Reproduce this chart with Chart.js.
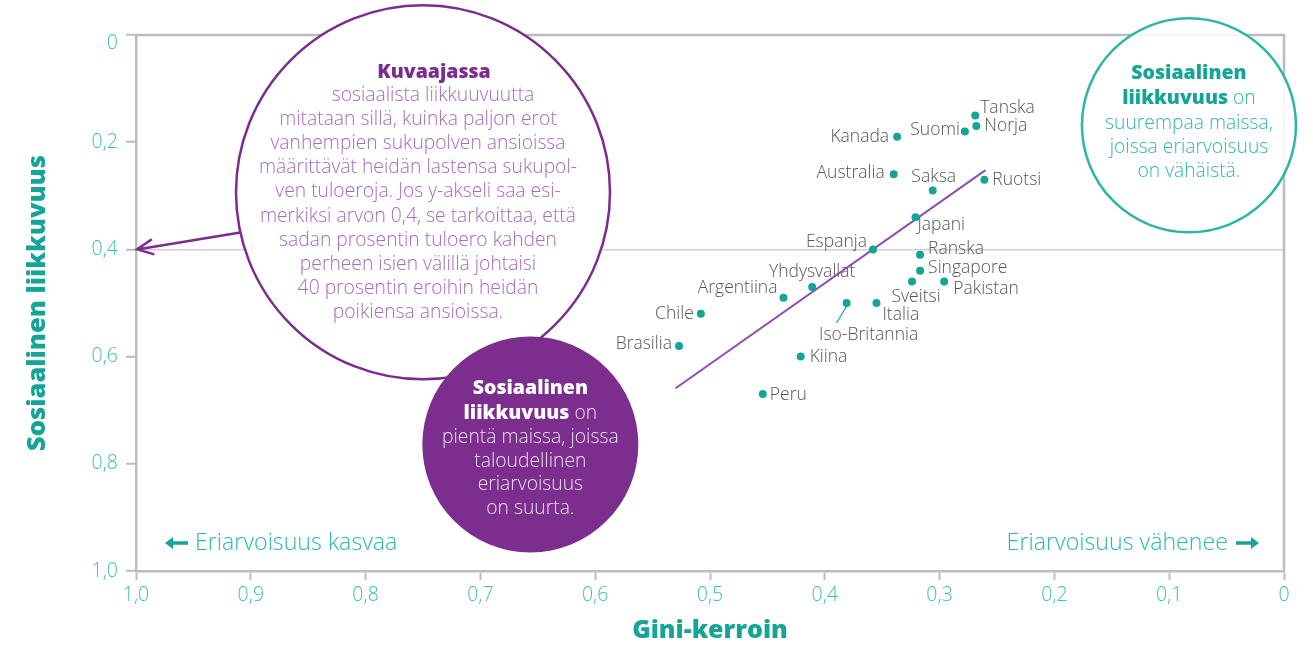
<!DOCTYPE html>
<html lang="fi">
<head>
<meta charset="utf-8">
<title>Sosiaalinen liikkuvuus ja Gini-kerroin</title>
<script src="https://cdn.jsdelivr.net/npm/chart.js@4"></script>
<style>
  html, body { margin: 0; padding: 0; background: #fff; }
  #wrap { width: 1313px; height: 646px; }
</style>
</head>
<body>
<div id="wrap"><canvas id="chart" width="1313" height="646"></canvas></div>
<script>
// values
const countries = [
  "Tanska", "Norja", "Suomi", "Kanada", "Australia", "Saksa", "Ruotsi",
  "Japani", "Espanja", "Ranska", "Singapore", "Pakistan", "Sveitsi",
  "Italia", "Iso-Britannia", "Yhdysvallat", "Argentiina", "Chile",
  "Brasilia", "Kiina", "Peru"
];
const giniValues = [
  0.269, 0.268, 0.278, 0.337, 0.340, 0.306, 0.261,
  0.321, 0.358, 0.317, 0.317, 0.296, 0.324,
  0.355, 0.381, 0.411, 0.436, 0.508,
  0.527, 0.421, 0.454
];
const mobilityValues = [
  0.15, 0.17, 0.18, 0.19, 0.26, 0.29, 0.27,
  0.34, 0.40, 0.41, 0.44, 0.46, 0.46,
  0.50, 0.50, 0.47, 0.49, 0.52,
  0.58, 0.60, 0.67
];
const trendGini = [0.530, 0.260];
const trendMobility = [0.659, 0.252];

const xTicks = [1.0, 0.9, 0.8, 0.7, 0.6, 0.5, 0.4, 0.3, 0.2, 0.1, 0];
const yTicks = [0, 0.2, 0.4, 0.6, 0.8, 1.0];
const referenceLine = 0.4;

// label placement next to each dot (pixels)
const labelPlace = {
  "Tanska": ["left", 5, -7], "Norja": ["left", 8, 0], "Suomi": ["right", -5, -1],
  "Kanada": ["right", -8, 0], "Australia": ["right", -9, -1], "Saksa": ["center", 1, -13],
  "Ruotsi": ["left", 8, 0], "Japani": ["left", 2, 8], "Espanja": ["right", -6, -7],
  "Ranska": ["left", 8, -6], "Singapore": ["left", 8, -3], "Pakistan": ["left", 9, 7],
  "Sveitsi": ["center", 4, 15], "Italia": ["left", 6, 12], "Iso-Britannia": ["center", 22, 32],
  "Yhdysvallat": ["center", 0, -15], "Argentiina": ["right", -6, -10], "Chile": ["right", -7, 0],
  "Brasilia": ["right", -7, -2], "Kiina": ["left", 9, 0], "Peru": ["left", 7, 1]
};

const TEAL = "#15a596";
const TEAL_LIGHT = "#3fc2ad";
const PURPLE = "#7b2d8e";
const PURPLE_LIGHT = "#a66dbd";
const GRAY_AXIS = "#bdbdbd";
const FONT = "'Open Sans', Lato, sans-serif";

const fmt = v => (v === 0 ? "0" : v.toFixed(1).replace(".", ","));

function richLine(ctx, parts, cx, y) {
  let total = 0;
  parts.forEach(p => { ctx.font = p.font; p.w = ctx.measureText(p.text).width; total += p.w; });
  let x = cx - total / 2;
  ctx.textAlign = "left";
  ctx.textBaseline = "middle";
  parts.forEach(p => { ctx.font = p.font; ctx.fillStyle = p.color; ctx.fillText(p.text, x, y); x += p.w; });
}

const notesPlugin = {
  id: "notes",
  beforeDraw(chart) {
    // the "0" of the y axis sits a little below its tick in the original
    const items = chart.scales.y.getLabelItems();
    const zero = items.find(it => it.label === "0");
    if (zero && !zero.moved) { zero.options.translation[1] += 8; zero.moved = true; }
  },
  beforeDatasetsDraw(chart) {
    const { ctx, chartArea: a, scales: { x, y } } = chart;
    ctx.save();
    // top and right frame
    ctx.strokeStyle = GRAY_AXIS;
    ctx.lineWidth = 2.5;
    ctx.beginPath();
    ctx.moveTo(a.left, a.top);
    ctx.lineTo(a.right, a.top);
    ctx.lineTo(a.right, a.bottom);
    ctx.stroke();

    const light = "300 19.3px " + FONT;
    const heavy = "800 19.5px " + FONT;

    // big explanation circle
    const bx = x.getPixelForValue(0.750), by = y.getPixelForValue(0.2935), br = 187;
    ctx.beginPath();
    ctx.arc(bx, by, br, 0, Math.PI * 2);
    ctx.fillStyle = "#fff";
    ctx.fill();
    ctx.strokeStyle = PURPLE;
    ctx.lineWidth = 2.5;
    ctx.stroke();

    // arrow from circle to y = 0.4
    const tx = x.getPixelForValue(1.0), ty = y.getPixelForValue(referenceLine);
    const ang = Math.atan2(ty - by, tx - bx) - 0.02;
    const sx = bx + br * Math.cos(ang), sy = by + br * Math.sin(ang);
    const dir = Math.atan2(sy - ty, sx - tx);
    ctx.beginPath();
    ctx.moveTo(sx, sy);
    ctx.lineTo(tx + 1, ty);
    ctx.moveTo(tx + 1 + 18 * Math.cos(dir - 0.44), ty + 18 * Math.sin(dir - 0.44));
    ctx.lineTo(tx + 1, ty);
    ctx.lineTo(tx + 1 + 18 * Math.cos(dir + 0.44), ty + 18 * Math.sin(dir + 0.44));
    ctx.lineWidth = 2.5;
    ctx.lineJoin = "miter";
    ctx.stroke();

    const bigLines = [
      "mitataan sillä, kuinka paljon erot",
      "vanhempien sukupolven ansioissa",
      "määrittävät heidän lastensa sukupol-",
      "ven tuloeroja. Jos y-akseli saa esi-",
      "merkiksi arvon 0,4, se tarkoittaa, että",
      "sadan prosentin tuloero kahden",
      "perheen isien välillä johtaisi",
      "40 prosentin eroihin heidän",
      "poikiensa ansioissa."
    ];
    richLine(ctx, [{ text: "Kuvaajassa", font: heavy, color: PURPLE }], bx + 11, by - 120);
    richLine(ctx, [{ text: "sosiaalista liikkuuvuutta", font: light, color: PURPLE_LIGHT }], bx + 10, by - 97);
    bigLines.forEach((t, i) => {
      richLine(ctx, [{ text: t, font: light, color: PURPLE_LIGHT }], bx - 5, by - 73 + i * 24.2);
    });

    // filled purple circle
    const px = x.getPixelForValue(0.6565), py = y.getPixelForValue(0.764), pr = 108;
    ctx.beginPath();
    ctx.arc(px, py, pr, 0, Math.PI * 2);
    ctx.fillStyle = "#7c2e8e";
    ctx.fill();
    const pale = "#eadcef";
    richLine(ctx, [{ text: "Sosiaalinen", font: heavy, color: "#fff" }], px, py - 56);
    richLine(ctx, [{ text: "liikkuvuus", font: heavy, color: "#fff" }, { text: " on", font: light, color: pale }], px, py - 31);
    ["pientä maissa, joissa", "taloudellinen", "eriarvoisuus", "on suurta."].forEach((t, i) => {
      richLine(ctx, [{ text: t, font: light, color: pale }], px, py - 7 + i * 23.7);
    });

    // teal circle
    const cx = x.getPixelForValue(0.0828), cy = y.getPixelForValue(0.1685), cr = 107;
    ctx.beginPath();
    ctx.arc(cx, cy, cr, 0, Math.PI * 2);
    ctx.fillStyle = "rgba(255,255,255,0.88)";
    ctx.fill();
    ctx.strokeStyle = "#2db7a2";
    ctx.lineWidth = 2.5;
    ctx.stroke();
    const tealText = "#33b9a4";
    richLine(ctx, [{ text: "Sosiaalinen", font: heavy, color: TEAL }], cx, cy - 52);
    richLine(ctx, [{ text: "liikkuvuus", font: heavy, color: TEAL }, { text: " on", font: light, color: tealText }], cx, cy - 27);
    ["suurempaa maissa,", "joissa eriarvoisuus", "on vähäistä."].forEach((t, i) => {
      richLine(ctx, [{ text: t, font: light, color: tealText }], cx, cy - 2 + i * 24);
    });

    // direction hints
    const hy = a.bottom - 28;
    ctx.font = "300 23.2px " + FONT;
    ctx.fillStyle = "#2dbba6";
    ctx.textBaseline = "middle";
    ctx.textAlign = "left";
    ctx.fillText("Eriarvoisuus kasvaa", a.left + 59, hy);
    ctx.textAlign = "right";
    ctx.fillText("Eriarvoisuus vähenee", a.right - 56, hy);
    const arrow = (x0, x1) => {
      const s = Math.sign(x1 - x0);
      ctx.strokeStyle = TEAL;
      ctx.fillStyle = TEAL;
      ctx.lineWidth = 3.5;
      ctx.beginPath();
      ctx.moveTo(x0, hy);
      ctx.lineTo(x1 - s * 6, hy);
      ctx.stroke();
      ctx.beginPath();
      ctx.moveTo(x1, hy);
      ctx.lineTo(x1 - s * 8, hy - 6);
      ctx.lineTo(x1 - s * 8, hy + 6);
      ctx.closePath();
      ctx.fill();
    };
    arrow(a.left + 52, a.left + 29);
    arrow(a.right - 48, a.right - 25);
    ctx.restore();
  },
  afterDatasetsDraw(chart) {
    const { ctx } = chart;
    const meta = chart.getDatasetMeta(0);
    ctx.save();
    ctx.font = "300 17.5px " + FONT;
    ctx.fillStyle = "#555";
    ctx.textBaseline = "middle";
    countries.forEach((name, i) => {
      const pt = meta.data[i];
      const [align, dx, dy] = labelPlace[name];
      ctx.textAlign = align;
      ctx.fillText(name, pt.x + dx, pt.y + dy);
      if (name === "Iso-Britannia") {
        ctx.strokeStyle = TEAL;
        ctx.lineWidth = 1.2;
        ctx.beginPath();
        ctx.moveTo(pt.x, pt.y + 3);
        ctx.lineTo(pt.x - 10, pt.y + 20);
        ctx.stroke();
      }
    });
    ctx.restore();
  }
};

const tickFont = { family: FONT, size: 19.5, weight: "300" };

new Chart(document.getElementById("chart"), {
  type: "scatter",
  data: {
    datasets: [
      {
        label: "Maat",
        data: countries.map((c, i) => ({ x: giniValues[i], y: mobilityValues[i] })),
        pointRadius: 4,
        pointBackgroundColor: TEAL,
        pointBorderWidth: 0,
        order: 1
      },
      {
        type: "line",
        label: "Trendi",
        data: trendGini.map((g, i) => ({ x: g, y: trendMobility[i] })),
        borderColor: "#8f4db0",
        borderWidth: 2,
        pointRadius: 0,
        fill: false,
        order: 2
      }
    ]
  },
  options: {
    responsive: false,
    animation: false,
    layout: { padding: { top: 35, right: 29, left: 0, bottom: 0 } },
    plugins: { legend: { display: false }, tooltip: { enabled: false } },
    scales: {
      x: {
        type: "linear",
        reverse: true,
        min: 0,
        max: 1,
        afterBuildTicks: s => { s.ticks = xTicks.map(v => ({ value: v })); },
        afterFit: s => { s.height = 75; },
        border: { color: GRAY_AXIS, width: 2.5 },
        grid: { drawOnChartArea: false, tickLength: 9, tickColor: GRAY_AXIS, tickWidth: 2 },
        ticks: { callback: v => fmt(v), color: TEAL_LIGHT, font: tickFont, padding: 4, maxRotation: 0 },
        title: {
          display: true,
          text: "Gini-kerroin",
          color: TEAL,
          font: { family: FONT, size: 25, weight: "800" },
          padding: { top: 0, bottom: 0 }
        }
      },
      y: {
        type: "linear",
        reverse: true,
        min: 0,
        max: 1,
        afterBuildTicks: s => { s.ticks = yTicks.map(v => ({ value: v })); },
        afterFit: s => { s.width = 136; },
        border: { color: GRAY_AXIS, width: 2.5 },
        grid: {
          color: c => (c.tick && c.tick.value === referenceLine ? "#dcc6e6" : "rgba(0,0,0,0)"),
          lineWidth: 1.5,
          tickLength: 10,
          tickColor: GRAY_AXIS,
          tickWidth: 2
        },
        ticks: { callback: v => fmt(v), color: TEAL_LIGHT, font: tickFont, padding: 8 },
        title: {
          display: true,
          text: "Sosiaalinen liikkuvuus",
          color: TEAL,
          font: { family: FONT, size: 25.5, weight: "800" },
          padding: { top: 22, bottom: 0 }
        }
      }
    }
  },
  plugins: [notesPlugin]
});
</script>
</body>
</html>
